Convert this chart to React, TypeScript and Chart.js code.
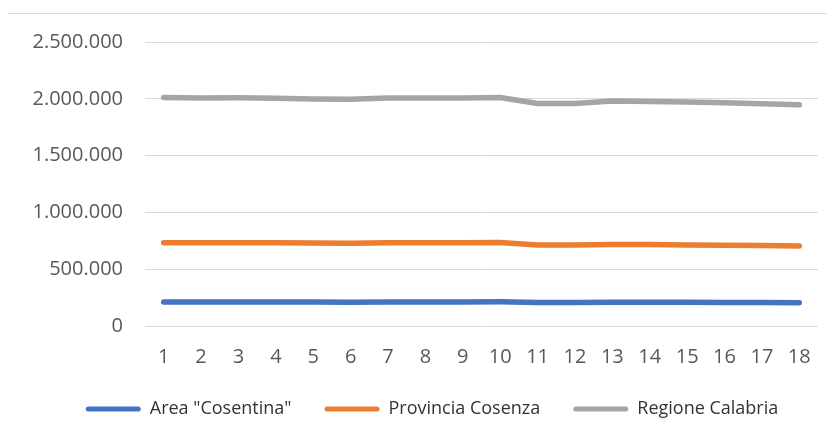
import React, { useEffect, useRef } from "react";
import { Chart, registerables } from "chart.js";

Chart.register(...registerables);

const categories = ["1","2","3","4","5","6","7","8","9","10","11","12","13","14","15","16","17","18"];
const areaCosentina = [212000, 211000, 212000, 212000, 211000, 210000, 211000, 212000, 212000, 213000, 207000, 207000, 209000, 209000, 208000, 207000, 206000, 205000];
const provinciaCosenza = [733000, 732000, 733000, 732000, 731000, 729000, 732000, 733000, 733000, 734000, 714000, 712000, 718000, 717000, 714000, 711000, 708000, 705000];
const regioneCalabria = [2011000, 2007000, 2009000, 2004000, 1998000, 1995000, 2007000, 2008000, 2008000, 2011000, 1959000, 1958000, 1980000, 1976000, 1971000, 1965000, 1957000, 1947000];
const seriesNames = ['Area "Cosentina"', "Provincia Cosenza", "Regione Calabria"];
const seriesColors = ["#4472C4", "#ED7D31", "#A5A5A5"];

const fmt = (v: number) => String(Math.round(v)).replace(/\B(?=(\d{3})+(?!\d))/g, ".");

const legendShift = {
  id: "legendShift",
  afterLayout(chart: any) {
    if (chart.legend) {
      chart.legend.left += 19;
      chart.legend.right += 19;
    }
  },
};

export default function App() {
  const ref = useRef<HTMLCanvasElement>(null);
  useEffect(() => {
    document.body.style.overflow = "hidden";
    const ctx = ref.current!;
    const mk = (label: string, data: number[], color: string) => ({
      label,
      data,
      borderColor: color,
      backgroundColor: color,
      borderWidth: 5.5,
      borderCapStyle: "round" as const,
      borderJoinStyle: "round" as const,
      pointRadius: 0,
      tension: 0,
    });
    const chart = new Chart(ctx, {
      type: "line",
      data: {
        labels: categories,
        datasets: [
          mk(seriesNames[0], areaCosentina, seriesColors[0]),
          mk(seriesNames[1], provinciaCosenza, seriesColors[1]),
          mk(seriesNames[2], regioneCalabria, seriesColors[2]),
        ],
      },
      plugins: [legendShift],
      options: {
        animation: false,
        responsive: false,
        maintainAspectRatio: false,
        layout: { padding: { top: 28, left: 0, right: 14, bottom: 14 } },
        plugins: {
          tooltip: { enabled: false },
          legend: {
            position: "bottom",
            labels: {
              boxWidth: 55,
              boxHeight: 5,
              useBorderRadius: true,
              borderRadius: 2.5,
              color: "#333333",
              font: { family: "'Open Sans', sans-serif", size: 18 },
              padding: 33,
              generateLabels: (c: any) =>
                Chart.defaults.plugins.legend.labels.generateLabels(c).map((l: any) => ({ ...l, lineWidth: 0 })),
            },
          },
        },
        scales: {
          x: {
            offset: true,
            grid: { display: false },
            border: { display: false },
            ticks: {
              color: "#595959",
              font: { family: "'Open Sans', sans-serif", size: 20 },
              padding: 11,
              maxRotation: 0,
              autoSkip: false,
            },
            afterFit: (s: any) => { s.height = 41; s.paddingLeft = 0; s.paddingRight = 0; },
          },
          y: {
            min: 0,
            max: 2500000,
            grid: { color: "#D9D9D9", lineWidth: 1, drawTicks: false },
            border: { display: false },
            ticks: {
              stepSize: 500000,
              color: "#595959",
              font: { family: "'Open Sans', sans-serif", size: 20 },
              padding: 22,
              callback: (v: any) => fmt(Number(v)),
            },
            afterFit: (s: any) => { s.width = 137; s.paddingTop = 0; s.paddingBottom = 0; },
          },
        },
      },
    });
    return () => chart.destroy();
  }, []);
  return (
    <div style={{ marginTop: 5, marginLeft: -1, width: 826, height: 430, border: "1px solid #D9D9D9", boxSizing: "border-box" }}>
      <canvas ref={ref} width={824} height={428} style={{ display: "block" }} />
    </div>
  );
}
